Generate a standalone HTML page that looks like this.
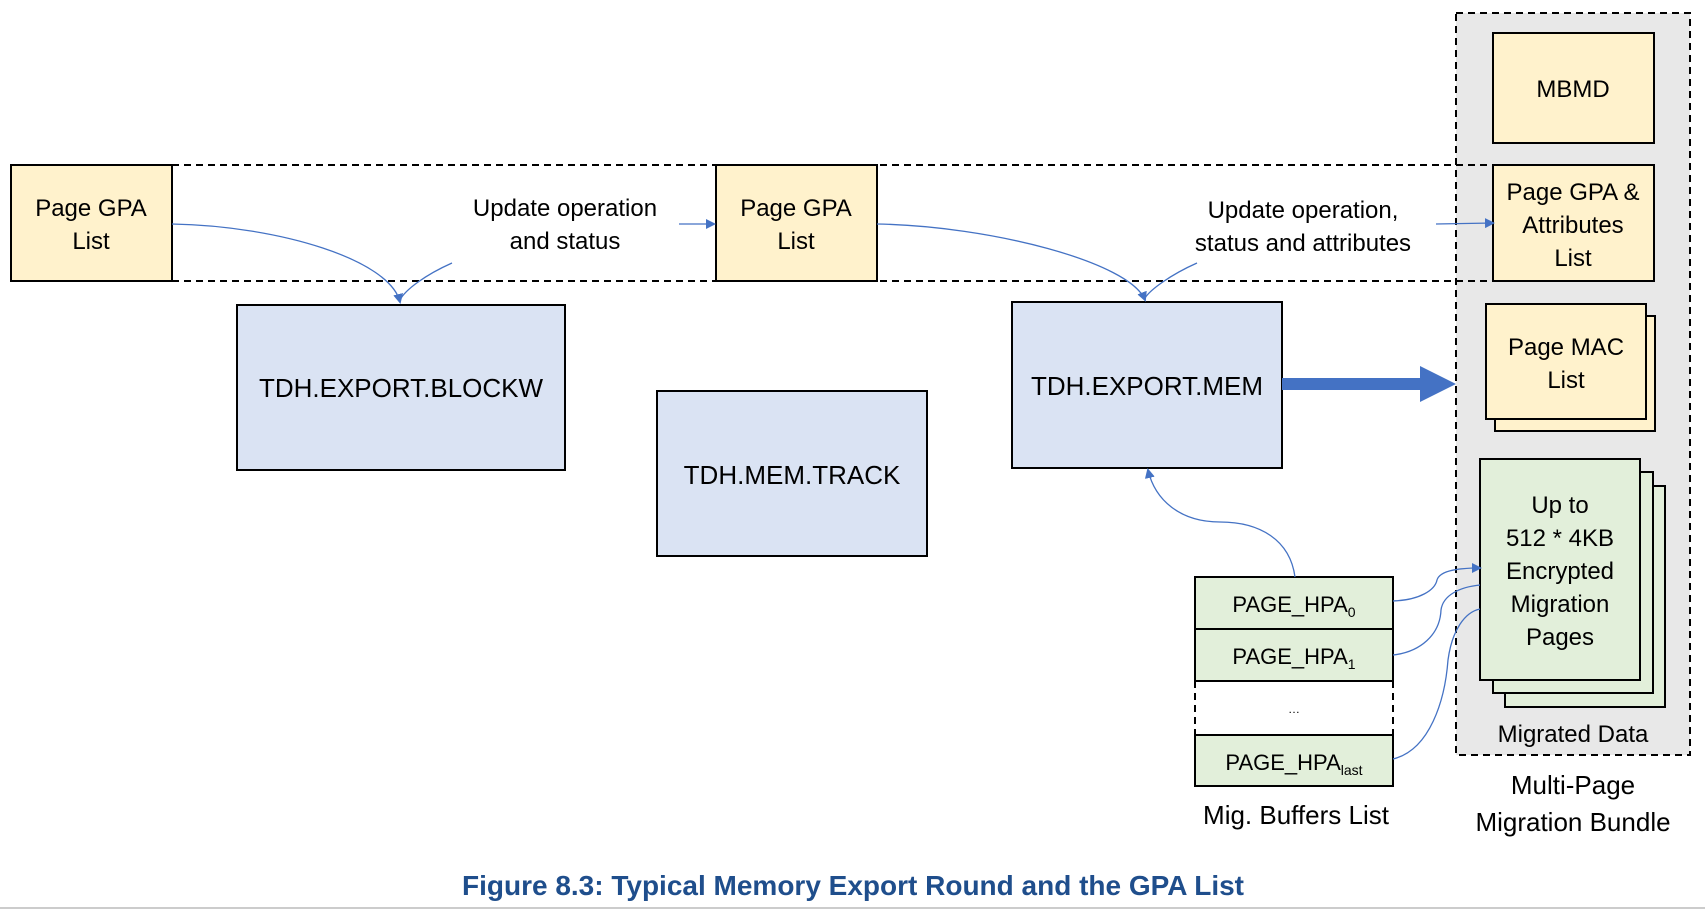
<!DOCTYPE html>
<html><head><meta charset="utf-8"><style>
html,body{margin:0;padding:0;background:#fff;}
svg{display:block;}
text{font-family:"Liberation Sans",sans-serif;fill:#000;}
</style></head><body>
<svg width="1705" height="909" viewBox="0 0 1705 909" xmlns="http://www.w3.org/2000/svg">
<defs>
<marker id="ah" markerWidth="10" markerHeight="10" refX="8" refY="5" orient="auto" markerUnits="userSpaceOnUse">
<path d="M0,0 L10,5 L0,10 z" fill="#4472c4"/>
</marker>
</defs>
<rect x="1456" y="13" width="234" height="742" fill="#e8e8e8" stroke="#000" stroke-width="2" stroke-dasharray="7,5"/>
<line x1="172" y1="165" x2="1493" y2="165" stroke="#000" stroke-width="2" stroke-dasharray="7,5"/>
<line x1="172" y1="281" x2="1493" y2="281" stroke="#000" stroke-width="2" stroke-dasharray="7,5"/>
<g fill="#fff2cc" stroke="#000" stroke-width="2">
<rect x="11" y="165" width="161" height="116"/>
<rect x="716" y="165" width="161" height="116"/>
<rect x="1493" y="33" width="161" height="110"/>
<rect x="1493" y="165" width="161" height="116"/>
<rect x="1495" y="316" width="160" height="115"/>
<rect x="1486" y="304" width="160" height="115"/>
</g>
<g font-size="24" text-anchor="middle">
<text x="91" y="216">Page GPA</text><text x="91" y="249">List</text>
<text x="796" y="216">Page GPA</text><text x="796" y="249">List</text>
<text x="1573" y="97">MBMD</text>
<text x="1573" y="200">Page GPA &amp;</text><text x="1573" y="233">Attributes</text><text x="1573" y="266">List</text>
<text x="1566" y="355">Page MAC</text><text x="1566" y="388">List</text>
<text x="565" y="216">Update operation</text><text x="565" y="249">and status</text>
<text x="1303" y="218">Update operation,</text><text x="1303" y="251">status and attributes</text>
</g>
<g fill="#dae3f3" stroke="#000" stroke-width="2">
<rect x="237" y="305" width="328" height="165"/>
<rect x="657" y="391" width="270" height="165"/>
<rect x="1012" y="302" width="270" height="166"/>
</g>
<g font-size="26" text-anchor="middle">
<text x="401" y="397">TDH.EXPORT.BLOCKW</text>
<text x="792" y="484">TDH.MEM.TRACK</text>
<text x="1147" y="395">TDH.EXPORT.MEM</text>
</g>
<rect x="1282" y="378" width="140" height="12" fill="#4472c4"/>
<path d="M1420,366 L1456,384 L1420,402 z" fill="#4472c4"/>
<g fill="#e2efda" stroke="#000" stroke-width="2">
<rect x="1505" y="486" width="160" height="221"/>
<rect x="1493" y="472" width="160" height="221"/>
<rect x="1480" y="459" width="160" height="221"/>
</g>
<g font-size="24" text-anchor="middle">
<text x="1560" y="513">Up to</text>
<text x="1560" y="546">512 * 4KB</text>
<text x="1560" y="579">Encrypted</text>
<text x="1560" y="612">Migration</text>
<text x="1560" y="645">Pages</text>
<text x="1573" y="742">Migrated Data</text>
<text x="1573" y="794" font-size="26">Multi-Page</text>
<text x="1573" y="831" font-size="26">Migration Bundle</text>
</g>
<g fill="#e2efda" stroke="#000" stroke-width="2">
<rect x="1195" y="577" width="198" height="52"/>
<rect x="1195" y="629" width="198" height="52"/>
<rect x="1195" y="735" width="198" height="51"/>
</g>
<line x1="1195" y1="681" x2="1195" y2="735" stroke="#000" stroke-width="2" stroke-dasharray="7,5"/>
<line x1="1393" y1="681" x2="1393" y2="735" stroke="#000" stroke-width="2" stroke-dasharray="7,5"/>
<g font-size="22" text-anchor="middle">
<text x="1294" y="612">PAGE_HPA<tspan font-size="14" dy="5">0</tspan></text>
<text x="1294" y="664">PAGE_HPA<tspan font-size="14" dy="5">1</tspan></text>
<text x="1294" y="713" font-size="12">…</text>
<text x="1294" y="770">PAGE_HPA<tspan font-size="14" dy="5">last</tspan></text>
<text x="1296" y="824" font-size="26">Mig. Buffers List</text>
</g>
<g fill="none" stroke="#4472c4" stroke-width="1.3">
<path d="M172,224 C280,226 390,260 400,302" marker-end="url(#ah)"/>
<path d="M452,263 C425,275 405,290 400,300"/>
<path d="M679,224 L714,224" marker-end="url(#ah)"/>
<path d="M877,224 C990,226 1130,262 1145,300" marker-end="url(#ah)"/>
<path d="M1197,263 C1170,275 1150,290 1145,298"/>
<path d="M1436,224 L1493,223" marker-end="url(#ah)"/>
<path d="M1295,577 C1290,540 1260,522 1220,522 C1180,522 1155,500 1148,470" marker-end="url(#ah)"/>
<path d="M1393,601 C1420,600 1435,590 1437,580 C1440,570 1460,568 1480,568" marker-end="url(#ah)"/>
<path d="M1393,655 C1420,652 1440,635 1441,610 C1443,595 1460,587 1480,585"/>
<path d="M1393,759 C1430,750 1445,700 1448,660 C1452,630 1465,612 1480,609"/>
</g>
<text x="853" y="895" font-size="28" font-weight="bold" text-anchor="middle" style="fill:#1f4e8c">Figure 8.3:  Typical Memory Export Round and the GPA List</text>
<line x1="0" y1="908" x2="1705" y2="908" stroke="#ccc" stroke-width="2"/>
</svg>
</body></html>
